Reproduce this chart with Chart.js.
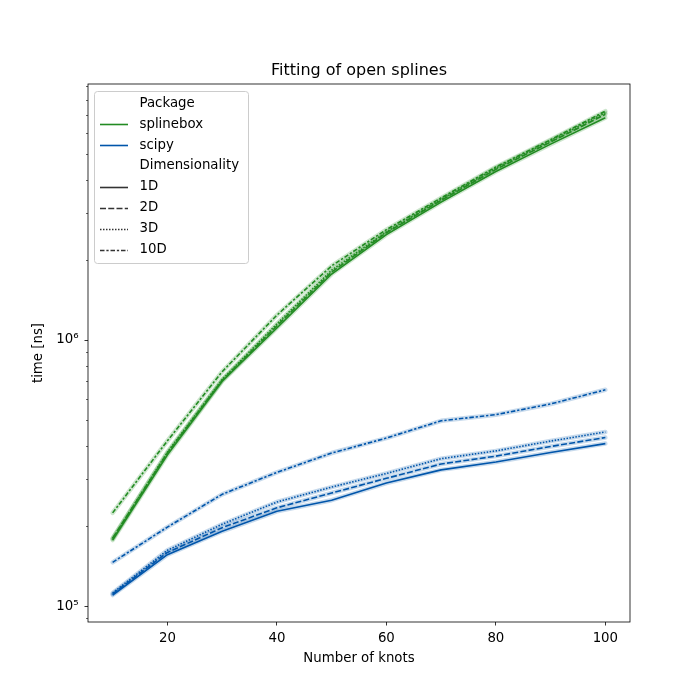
<!DOCTYPE html>
<html>
<head>
<meta charset="utf-8">
<script src="https://cdn.jsdelivr.net/npm/chart.js@4"></script>
<style>
  html, body { margin: 0; padding: 0; background: #ffffff; }
  #wrap { width: 700px; height: 700px; }
</style>
</head>
<body>
<div id="wrap"><canvas id="c" width="700" height="700"></canvas></div>
<script>
// ---- data ----
const knots = [10, 20, 30, 40, 50, 60, 70, 80, 90, 100];

const splinebox1D  = [1.77e5, 3.70e5, 7.00e5, 1.11e6, 1.77e6, 2.49e6, 3.30e6, 4.30e6, 5.45e6, 6.85e6];
const splinebox2D  = [1.80e5, 3.76e5, 7.05e5, 1.13e6, 1.80e6, 2.53e6, 3.35e6, 4.38e6, 5.55e6, 7.05e6];
const splinebox3D  = [1.79e5, 3.79e5, 7.10e5, 1.15e6, 1.83e6, 2.55e6, 3.38e6, 4.43e6, 5.62e6, 7.15e6];
const splinebox10D = [2.24e5, 4.18e5, 7.60e5, 1.24e6, 1.90e6, 2.60e6, 3.42e6, 4.47e6, 5.66e6, 7.25e6];

const scipy1D  = [1.10e5, 1.56e5, 1.91e5, 2.27e5, 2.50e5, 2.90e5, 3.25e5, 3.48e5, 3.78e5, 4.08e5];
const scipy2D  = [1.11e5, 1.59e5, 1.97e5, 2.34e5, 2.66e5, 3.02e5, 3.42e5, 3.66e5, 3.98e5, 4.30e5];
const scipy3D  = [1.12e5, 1.62e5, 2.03e5, 2.46e5, 2.80e5, 3.15e5, 3.58e5, 3.83e5, 4.17e5, 4.51e5];
const scipy10D = [1.46e5, 1.98e5, 2.63e5, 3.18e5, 3.76e5, 4.28e5, 4.97e5, 5.24e5, 5.75e5, 6.50e5];

const xTicks = [20, 40, 60, 80, 100];
const yMajorTicks = [1e5, 1e6];
const yTickLabels = { 100000: '10\u2075', 1000000: '10\u2076' };

const packages = ['splinebox', 'scipy'];
const dims = ['1D', '2D', '3D', '10D'];

// ---- styles ----
const GREEN = '#228b22';
const BLUE = '#0055aa';
const GREEN_BAND = 'rgba(34,139,34,0.22)';
const BLUE_BAND = 'rgba(0,85,170,0.22)';
const DASHES = { '1D': [], '2D': [6, 2.25], '3D': [1.5, 1.5], '10D': [4.5, 1.875, 2.25, 1.875] };
const FONT = 'DejaVu Sans';

const seriesData = {
  splinebox: { '1D': splinebox1D, '2D': splinebox2D, '3D': splinebox3D, '10D': splinebox10D },
  scipy: { '1D': scipy1D, '2D': scipy2D, '3D': scipy3D, '10D': scipy10D }
};

const datasets = [];
packages.forEach(p => {
  dims.forEach(d => {
    const vals = seriesData[p][d];
    const pts = knots.map((k, i) => ({ x: k, y: vals[i] }));
    datasets.push({
      label: p + ' ' + d + ' band',
      data: pts,
      borderColor: p === 'splinebox' ? GREEN_BAND : BLUE_BAND,
      borderWidth: 4.5,
      pointRadius: 0,
      fill: false,
      tension: 0,
      order: 2,
      borderJoinStyle: 'round',
      borderCapStyle: 'round'
    });
    datasets.push({
      label: p + ' ' + d,
      data: pts,
      borderColor: p === 'splinebox' ? GREEN : BLUE,
      borderWidth: 1.6,
      borderDash: DASHES[d],
      pointRadius: 0,
      fill: false,
      tension: 0,
      order: 1,
      borderJoinStyle: 'round',
      borderCapStyle: 'butt'
    });
  });
});

const decorPlugin = {
  id: 'decor',
  afterDraw(chart) {
    const ctx = chart.ctx;
    const a = chart.chartArea;
    const ys = chart.scales.y;
    ctx.save();
    // frame
    ctx.strokeStyle = '#000000';
    ctx.lineWidth = 0.8;
    ctx.strokeRect(a.left, a.top, a.right - a.left, a.bottom - a.top);
    // minor y ticks
    ctx.lineWidth = 0.6;
    ctx.beginPath();
    [1e4, 1e5, 1e6].forEach(dec => {
      for (let m = 2; m <= 9; m++) {
        const v = dec * m;
        if (v < ys.min || v > ys.max) continue;
        const py = Math.round(ys.getPixelForValue(v)) + 0.5;
        ctx.moveTo(a.left, py);
        ctx.lineTo(a.left - 2, py);
      }
    });
    ctx.stroke();

    // titles
    ctx.fillStyle = '#000000';
    ctx.textAlign = 'center';
    ctx.textBaseline = 'middle';
    ctx.font = '16px "' + FONT + '"';
    ctx.fillText('Fitting of open splines', (a.left + a.right) / 2, 71);
    ctx.font = '13.33px "' + FONT + '"';
    ctx.fillText('Number of knots', (a.left + a.right) / 2, 659);
    ctx.save();
    ctx.translate(39, (a.top + a.bottom) / 2);
    ctx.rotate(-Math.PI / 2);
    ctx.fillText('time [ns]', 0, 0);
    ctx.restore();

    // legend
    const bx = 94.5, by = 91.5, bw = 154, bh = 172, r = 3;
    ctx.beginPath();
    ctx.moveTo(bx + r, by);
    ctx.lineTo(bx + bw - r, by);
    ctx.arcTo(bx + bw, by, bx + bw, by + r, r);
    ctx.lineTo(bx + bw, by + bh - r);
    ctx.arcTo(bx + bw, by + bh, bx + bw - r, by + bh, r);
    ctx.lineTo(bx + r, by + bh);
    ctx.arcTo(bx, by + bh, bx, by + bh - r, r);
    ctx.lineTo(bx, by + r);
    ctx.arcTo(bx, by, bx + r, by, r);
    ctx.closePath();
    ctx.fillStyle = 'rgba(255,255,255,0.8)';
    ctx.fill();
    ctx.strokeStyle = '#cccccc';
    ctx.lineWidth = 1;
    ctx.stroke();

    const entries = [
      { text: 'Package', color: null, dash: null },
      { text: 'splinebox', color: GREEN, dash: [] },
      { text: 'scipy', color: BLUE, dash: [] },
      { text: 'Dimensionality', color: null, dash: null },
      { text: '1D', color: '#333333', dash: DASHES['1D'] },
      { text: '2D', color: '#333333', dash: DASHES['2D'] },
      { text: '3D', color: '#333333', dash: DASHES['3D'] },
      { text: '10D', color: '#333333', dash: DASHES['10D'] }
    ];
    ctx.font = '13.33px "' + FONT + '"';
    ctx.textAlign = 'left';
    ctx.textBaseline = 'middle';
    entries.forEach((e, i) => {
      const cy = 103.3 + i * 20.9;
      if (e.color) {
        ctx.beginPath();
        ctx.setLineDash(e.dash);
        ctx.strokeStyle = e.color;
        ctx.lineWidth = 1.6;
        ctx.lineCap = 'butt';
        ctx.moveTo(100, Math.round(cy) + 0.5);
        ctx.lineTo(128, Math.round(cy) + 0.5);
        ctx.stroke();
        ctx.setLineDash([]);
      }
      ctx.fillStyle = '#000000';
      ctx.fillText(e.text, 139.5, cy);
    });
    ctx.restore();
  }
};

new Chart(document.getElementById('c'), {
  type: 'line',
  data: { datasets },
  plugins: [decorPlugin],
  options: {
    responsive: false,
    animation: false,
    devicePixelRatio: 1,
    layout: { padding: { left: 0, top: 84, right: 70, bottom: 0 } },
    plugins: {
      legend: { display: false },
      title: { display: false },
      tooltip: { enabled: false }
    },
    scales: {
      x: {
        type: 'linear',
        min: 5.5,
        max: 104.5,
        afterBuildTicks: s => { s.ticks = xTicks.map(v => ({ value: v })); },
        afterFit: s => { s.height = 78; },
        grid: { display: true, drawOnChartArea: false, drawTicks: true, tickLength: 3.5, tickColor: '#000000', tickWidth: 0.8 },
        border: { display: false },
        ticks: {
          color: '#000000',
          font: { family: FONT, size: 13.33 },
          padding: 5,
          maxRotation: 0,
          callback: v => String(v)
        }
      },
      y: {
        type: 'logarithmic',
        min: 8.71e4,
        max: 9.17e6,
        afterBuildTicks: s => { s.ticks = yMajorTicks.map(v => ({ value: v })); },
        afterFit: s => { s.width = 88; },
        grid: { display: true, drawOnChartArea: false, drawTicks: true, tickLength: 3.5, tickColor: '#000000', tickWidth: 0.8 },
        border: { display: false },
        ticks: {
          color: '#000000',
          font: { family: FONT, size: 13.33 },
          padding: 6,
          callback: v => yTickLabels[v] || ''
        }
      }
    }
  }
});
</script>
</body>
</html>
